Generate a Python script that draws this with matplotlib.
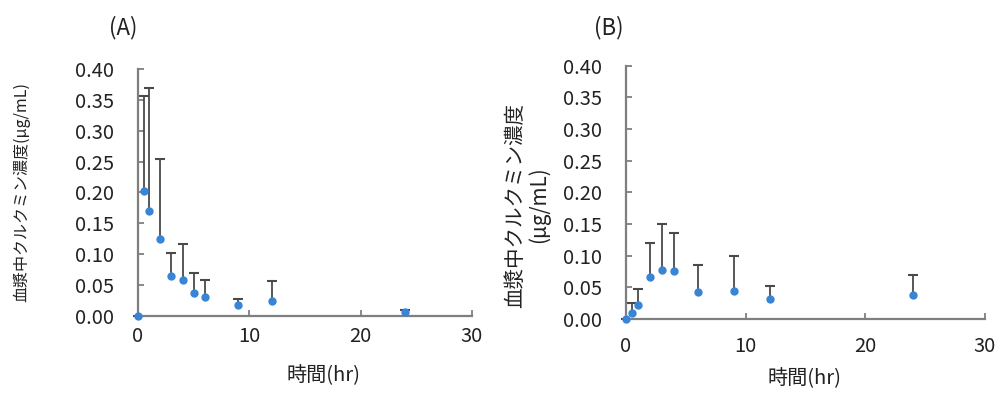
import numpy as np
import matplotlib
matplotlib.use("Agg")
import matplotlib.pyplot as plt

plt.rcParams['font.family'] = ['Noto Sans CJK JP', 'DejaVu Sans']

# Panel A data
time_a = [0, 0.5, 1, 2, 3, 4, 5, 6, 9, 12, 24]
mean_a = [0, 0.202, 0.170, 0.124, 0.064, 0.059, 0.038, 0.030, 0.017, 0.024, 0.006]
upper_a = [0, 0.357, 0.369, 0.255, 0.102, 0.116, 0.069, 0.058, 0.027, 0.056, 0.010]

# Panel B data
time_b = [0, 0.5, 1, 2, 3, 4, 6, 9, 12, 24]
mean_b = [0, 0.010, 0.023, 0.067, 0.078, 0.076, 0.043, 0.045, 0.032, 0.038]
upper_b = [0, 0.025, 0.047, 0.121, 0.150, 0.136, 0.086, 0.099, 0.053, 0.070]

xticks = [0, 10, 20, 30]
yticks = [0.00, 0.05, 0.10, 0.15, 0.20, 0.25, 0.30, 0.35, 0.40]
xlabel = '時間(hr)'
ylabel_a = '血漿中クルクミン濃度(μg/mL)'
ylabel_b = '血漿中クルクミン濃度\n(μg/mL)'

marker_color = '#3a84d6'
err_color = '#4a4a4a'
spine_color = '#7f7f7f'
text_color = '#222222'

fig = plt.figure(figsize=(10, 3.94), dpi=100)
ax_a = fig.add_axes([0.138, 0.198, 0.334, 0.627])
ax_b = fig.add_axes([0.626, 0.190, 0.359, 0.643])


def draw(ax, t, m, u, ylab, ylab_size, ypad, xpad):
    t = np.array(t)
    m = np.array(m)
    u = np.array(u)
    err = np.vstack([np.zeros_like(m), u - m])
    eb = ax.errorbar(t, m, yerr=err, fmt='none', ecolor=err_color,
                     elinewidth=1.3, capsize=3.5, capthick=1.5, zorder=2)
    caplines = eb[1]
    if len(caplines) >= 2:
        caplines[0].set_visible(False)
    for art in eb.get_children():
        art.set_clip_on(False)
    ax.scatter(t, m, s=36, color=marker_color, zorder=3, clip_on=False,
               linewidths=0)
    ax.set_xlim(0, 30)
    ax.set_ylim(0, 0.40)
    ax.set_xticks(xticks)
    ax.set_yticks(yticks)
    ax.set_yticklabels([f'{v:.2f}' for v in yticks])
    for s in ['top', 'right']:
        ax.spines[s].set_visible(False)
    for s in ['left', 'bottom']:
        ax.spines[s].set_color(spine_color)
        ax.spines[s].set_linewidth(1.6)
    ax.tick_params(axis='both', direction='in', length=4, width=1.3,
                   color=spine_color, labelsize=14.5, labelcolor=text_color)
    ax.tick_params(axis='y', pad=ypad)
    ax.tick_params(axis='x', pad=xpad)
    ax.set_xlabel(xlabel, fontsize=14.5, color=text_color)
    ax.set_ylabel(ylab, fontsize=ylab_size, color=text_color, linespacing=1.1)
    ax.set_facecolor('white')
    return ax


draw(ax_a, time_a, mean_a, upper_a, ylabel_a, 11.5, 17, 7)
draw(ax_b, time_b, mean_b, upper_b, ylabel_b, 14.8, 17, 12)

ax_a.xaxis.set_label_coords(0.555, -0.20)
ax_a.yaxis.set_label_coords(-0.323, 0.5)
ax_b.xaxis.set_label_coords(0.497, -0.195)
ax_b.yaxis.set_label_coords(-0.21, 0.45)

fig.text(0.123, 0.93, '(A)', fontsize=16, ha='center', va='center', color=text_color)
fig.text(0.609, 0.93, '(B)', fontsize=16, ha='center', va='center', color=text_color)

fig.savefig('out.png', dpi=100, facecolor='white')
